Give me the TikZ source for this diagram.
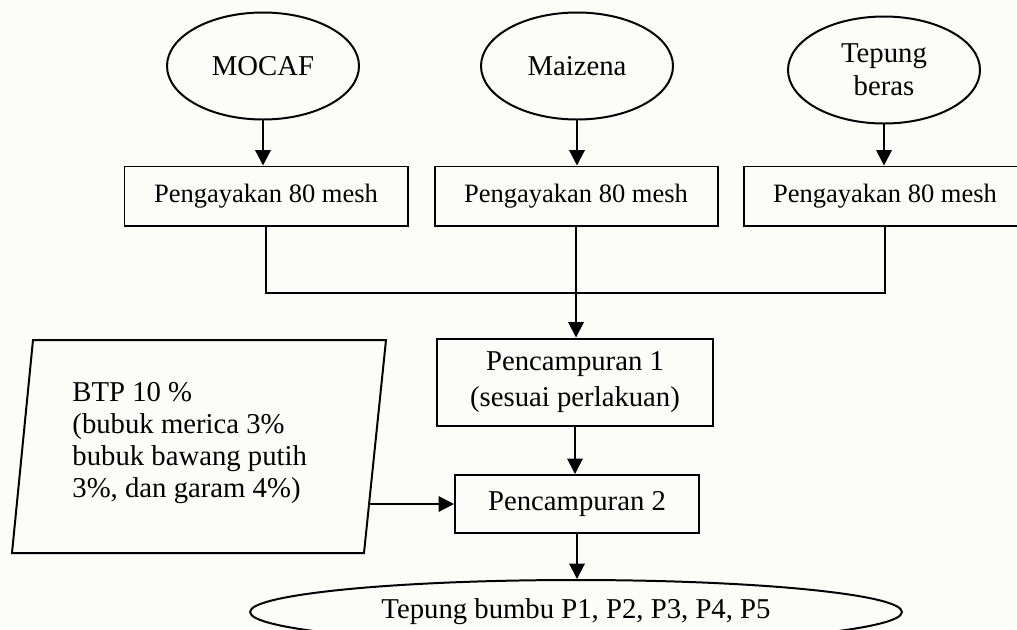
\documentclass[tikz,border=0pt]{standalone}
\usepackage{fontspec}
\setmainfont{Liberation Serif}
\usetikzlibrary{
    shapes.geometric,
    arrows.meta,
    positioning,
    calc
}
\definecolor{paper}{RGB}{252,252,248}
\newcommand{\pxu}{0.4525pt}

\begin{document}
\begin{tikzpicture}[
        x=0.4525pt, y=-0.4525pt,
        src/.style={draw, ellipse, line width=0.9pt, align=center, inner sep=0pt,
            minimum width=192*\pxu, minimum height=107*\pxu, font=\fontsize{13}{15}\selectfont},
        sieve/.style={draw, rectangle, line width=0.9pt,
            minimum width=283*\pxu, minimum height=59*\pxu, font=\fontsize{12}{14}\selectfont},
        mixbox/.style={draw, rectangle, line width=0.9pt, align=center,
            font=\fontsize{13}{16}\selectfont},
        arr/.style={line width=0.9pt, -{Triangle[length=7pt, width=7pt]}},
        link/.style={line width=0.7pt}
    ]
        % Page
        \useasboundingbox (0,0) rectangle (1017,629);
        \clip (0,0) rectangle (1017,629);
        \fill[paper] (0,0) rectangle (1017,629);

        % Flours and sieving
        \foreach \i/\x/\y/\xs/\txt in {1/263/66/266/MOCAF, 2/577/66/576/Maizena, 3/884/70/885/{Tepung\\beras}} {
            \node[src] (src\i) at (\x, \y) {\txt};
            \node[sieve] (sieve\i) at (\xs, 196) {Pengayakan 80 mesh};
            \draw[arr] (src\i.south) -- (src\i.south |- sieve\i.north);
        }

        % Merge
        \coordinate (join) at (576, 293);
        \draw[link] (sieve1.south) |- (join) -| (sieve3.south);

        % Mixing
        \node[mixbox, minimum width=276*\pxu, minimum height=87*\pxu] (mix1) at (575, 382)
            {Pencampuran 1\\(sesuai perlakuan)};
        \node[mixbox, minimum width=244*\pxu, minimum height=58*\pxu] (mix2) at (577, 504)
            {Pencampuran 2};
        \draw[arr] (sieve2.south) -- (sieve2.south |- mix1.north);
        \draw[arr] (mix1.south) -- (mix1.south |- mix2.north);

        % Additives
        \draw[line width=0.9pt] (33,340) -- (386,340) -- (364,553) -- (12,553) -- cycle;
        \node[anchor=west, align=left, inner sep=0pt, font=\fontsize{13}{14.5}\selectfont] (btp) at (72, 443)
            {BTP 10 \%\\(bubuk merica 3\%\\bubuk bawang putih\\3\%, dan garam 4\%)};
        \coordinate (btpout) at (369, 504);
        \draw[arr] (btpout) -- (mix2.west);

        % Product
        \node[draw, ellipse, line width=0.9pt, minimum width=652*\pxu, minimum height=64*\pxu,
            font=\fontsize{13}{15}\selectfont] (product) at (576, 612) {Tepung bumbu P1, P2, P3, P4, P5};
        \draw[arr] (mix2.south) -- (mix2.south |- product.north);
    \end{tikzpicture}
\end{document}
